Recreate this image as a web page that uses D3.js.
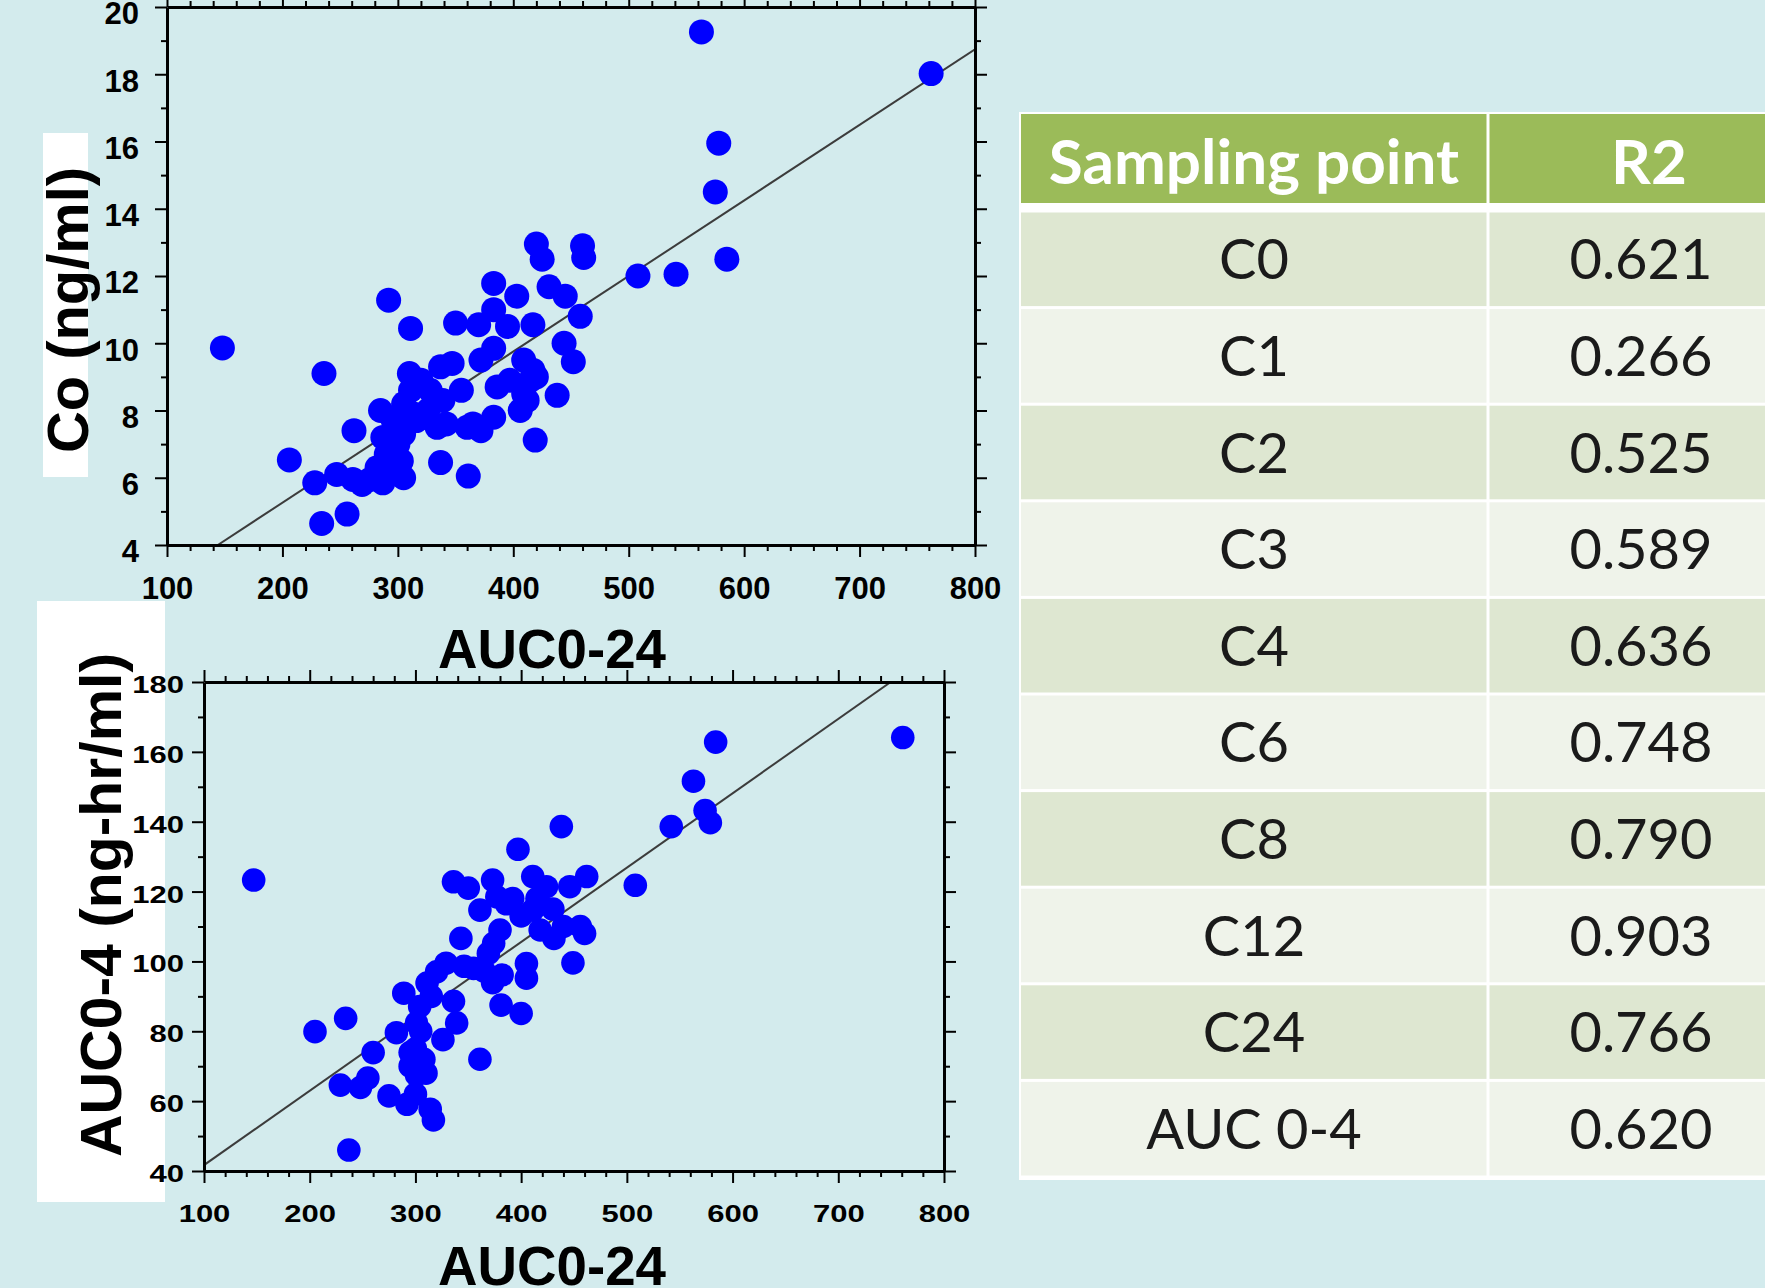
<!DOCTYPE html>
<html>
<head>
<meta charset="utf-8">
<script src="https://cdn.jsdelivr.net/npm/d3@7"></script>
<style>
  body { margin: 0; background: #d3ebed; }
  svg { display: block; }
</style>
</head>
<body>
<svg id="chart"></svg>
<script>
// ---- data ----
// top scatter: Co (ng/ml) against AUC0-24
const coAuc24 = [148, 563, 762, 578, 575, 585, 508, 541, 420, 425, 460, 461, 383, 403, 431, 445,
    458, 444, 452, 438, 419, 292, 311, 236, 206, 262, 228, 234, 256, 337, 361, 350, 370, 383, 395,
    417, 383, 372, 409, 417, 397, 386, 409, 406, 383, 372, 360, 342, 347, 337, 310, 311, 328, 339,
    305, 285, 296, 316, 334, 287, 305, 290, 303, 305, 282, 276, 287, 261, 247, 269, 415, 300, 313,
    326, 355, 365, 420, 412, 298, 320];
const coValues = [9.86, 19.26, 18.02, 15.95, 14.5, 12.5, 12.0, 12.05, 12.95, 12.5, 12.9, 12.55,
    11.78, 11.4, 11.68, 11.4, 10.8, 10.0, 9.45, 8.45, 7.12, 11.28, 10.44, 9.1, 6.53, 7.4, 5.85, 4.64,
    4.92, 6.45, 6.05, 10.6, 10.55, 11.0, 10.5, 10.55, 9.85, 9.5, 9.5, 9.2, 8.9, 8.7, 8.5, 8.0, 7.8,
    7.4, 7.5, 7.6, 9.4, 9.3, 9.1, 8.6, 8.6, 8.3, 8.2, 8.0, 7.7, 7.7, 7.5, 7.2, 7.3, 6.7, 6.5, 6.0,
    6.3, 5.95, 5.85, 5.95, 6.1, 5.8, 8.9, 7.0, 7.9, 8.0, 8.6, 7.6, 9.0, 8.3, 6.2, 8.9];
const coFit = { intercept: 0.764, slope: 0.02247 };

// bottom scatter: AUC0-4 against AUC0-24
const aucAuc24 = [147, 584, 761, 563, 574, 579, 542, 508, 438, 397, 336, 350, 373, 377, 361, 386,
    411, 424, 446, 462, 411, 418, 431, 456, 460, 380, 374, 369, 343, 449, 405, 405, 382, 381, 400,
    329, 346, 365, 373, 289, 311, 336, 304, 339, 326, 301, 282, 295, 260, 234, 205, 308, 301, 255,
    229, 248, 275, 292, 314, 361, 237, 300, 305, 295, 310, 300, 315, 320, 355, 392, 400, 415, 430,
    440, 317];
const auc04Values = [123.3, 162.8, 164.1, 151.6, 143.2, 139.7, 138.6, 121.8, 138.6, 132.1, 122.8,
    121, 123.3, 118.5, 114.7, 116.5, 124.3, 121.4, 121.4, 124.3, 114.7, 109, 106.6, 110, 108, 109,
    105.2, 102.3, 106.6, 99.6, 99.4, 95.2, 96.1, 87.5, 85.1, 99.5, 98.6, 97.2, 93.9, 90.9, 93.8, 88.6,
    87.1, 82.4, 77.6, 82.4, 79.6, 73.9, 73.9, 83.7, 79.9, 72, 67.5, 66.6, 64.6, 63.9, 61.5, 59.1,
    57.7, 72, 46, 75, 80, 70, 68, 62, 90, 97, 98, 118, 113, 118, 115, 110, 54.6];
const aucFit = { intercept: 20.4, slope: 0.2129 };

// table
const samplingPoints = ['C0', 'C1', 'C2', 'C3', 'C4', 'C6', 'C8', 'C12', 'C24', 'AUC 0-4'];
const r2Values = ['0.621', '0.266', '0.525', '0.589', '0.636', '0.748', '0.790', '0.903', '0.766', '0.620'];
const tableHeader = ['Sampling point', 'R2'];

const W = 1765, H = 1288;
const BG = '#d3ebed';

const svg = d3.select('#chart').attr('width', W).attr('height', H);
svg.append('rect').attr('width', W).attr('height', H).attr('fill', BG);

// white patches behind the y titles (under the tick labels)
svg.append('rect').attr('x', 43).attr('y', 133).attr('width', 45).attr('height', 344).attr('fill', '#fff');
svg.append('rect').attr('x', 37).attr('y', 601).attr('width', 128).attr('height', 601).attr('fill', '#fff');

function drawScatter(o) {
    let g = svg.append('g');

    let x = d3.scaleLinear().domain(o.xDomain).range([o.left, o.right]);
    let y = d3.scaleLinear().domain(o.yDomain).range([o.bottom, o.top]);

    g.append('rect')
        .attr('x', o.left).attr('y', o.top)
        .attr('width', o.right - o.left).attr('height', o.bottom - o.top)
        .attr('fill', BG);

    // regression line, cut at the frame
    let clipId = 'clip' + o.id;
    g.append('clipPath').attr('id', clipId)
        .append('rect')
        .attr('x', o.left).attr('y', o.top)
        .attr('width', o.right - o.left).attr('height', o.bottom - o.top);

    let x0 = Math.max(o.xDomain[0], (o.yDomain[0] - o.fit.intercept) / o.fit.slope);
    let x1 = Math.min(o.xDomain[1], (o.yDomain[1] - o.fit.intercept) / o.fit.slope);
    g.append('line')
        .attr('clip-path', `url(#${clipId})`)
        .attr('x1', x(x0)).attr('y1', y(o.fit.intercept + o.fit.slope * x0))
        .attr('x2', x(x1)).attr('y2', y(o.fit.intercept + o.fit.slope * x1))
        .attr('stroke', '#3c3c3c')
        .attr('stroke-width', 2);

    // dots
    g.selectAll('.dot')
        .data(o.xs.map((d, i) => [d, o.ys[i]]))
        .enter()
        .append('circle')
        .attr('class', 'dot')
        .attr('cx', d => x(d[0]))
        .attr('cy', d => y(d[1]))
        .attr('r', o.r)
        .attr('fill', '#0000ff');

    // axes: major + minor ticks on all four sides, all pointing out
    let xMajor = d3.range(o.xDomain[0], o.xDomain[1] + 1, o.xStep);
    let xMinor = d3.range(o.xDomain[0], o.xDomain[1] + 1, o.xMinorStep).filter(v => !xMajor.includes(v));
    let yMajor = d3.range(o.yDomain[0], o.yDomain[1] + 0.001, o.yStep);
    let yMinor = d3.range(o.yDomain[0], o.yDomain[1] + 0.001, o.yMinorStep).filter(v => !yMajor.includes(v));

    let sides = [
        { make: () => d3.axisBottom(x), t: `translate(0,${o.bottom})`, major: xMajor, minor: xMinor, labels: true },
        { make: () => d3.axisTop(x), t: `translate(0,${o.top})`, major: xMajor, minor: xMinor, labels: false },
        { make: () => d3.axisLeft(y), t: `translate(${o.left},0)`, major: yMajor, minor: yMinor, labels: true },
        { make: () => d3.axisRight(y), t: `translate(${o.right},0)`, major: yMajor, minor: yMinor, labels: false }
    ];

    sides.forEach((s, i) => {
        g.append('g')
            .attr('transform', s.t)
            .call(s.make().tickValues(s.minor).tickSize(6).tickSizeOuter(0).tickFormat(''))
            .call(a => a.select('.domain').remove())
            .selectAll('line').attr('stroke', '#000').attr('stroke-width', 2);

        let major = g.append('g')
            .attr('class', 'axis')
            .attr('transform', s.t)
            .call(s.make().tickValues(s.major).tickSize(12).tickSizeOuter(0)
                .tickPadding(i === 0 ? o.xPad : o.yPad)
                .tickFormat(s.labels ? d3.format('d') : ''));
        major.select('.domain').attr('stroke', '#000').attr('stroke-width', 3);
        major.selectAll('line').attr('stroke', '#000').attr('stroke-width', 2);
        let txt = major.selectAll('text')
            .attr('fill', '#000')
            .style('font-family', '"Liberation Sans Narrow", "Liberation Sans", sans-serif')
            .style('font-weight', 'bold')
            .style('font-size', o.tickFont + 'px');
        if (i === 2) txt.attr('y', o.yLabelShift);
        if (o.squash !== 1) {
            txt.attr('transform', `scale(1,${o.squash})`)
                .attr('y', function () {
                    return (+d3.select(this).attr('y') || 0) / o.squash;
                });
        }
    });
    return g;
}

drawScatter({
    id: 'top', xs: coAuc24, ys: coValues, fit: coFit,
    xDomain: [100, 800], yDomain: [4, 20],
    left: 167, right: 975, top: 7, bottom: 545,
    xStep: 100, xMinorStep: 20, yStep: 2, yMinorStep: 1,
    r: 12.5, tickFont: 31, xPad: 20, yPad: 16, yLabelShift: 7, squash: 1
});

drawScatter({
    id: 'bottom', xs: aucAuc24, ys: auc04Values, fit: aucFit,
    xDomain: [100, 800], yDomain: [40, 180],
    left: 204, right: 944, top: 682, bottom: 1171,
    xStep: 100, xMinorStep: 20, yStep: 20, yMinorStep: 10,
    r: 11.8, tickFont: 31, xPad: 22, yPad: 8, yLabelShift: 3, squash: 0.75
});

// axis titles
const titleFont = '"Liberation Sans", Arial, sans-serif';

svg.append('text')
    .attr('transform', 'translate(88,310) rotate(-90)')
    .attr('text-anchor', 'middle')
    .attr('textLength', 286).attr('lengthAdjust', 'spacingAndGlyphs')
    .style('font-family', titleFont).style('font-weight', 'bold').style('font-size', '57px')
    .text('Co (ng/ml)');

svg.append('text')
    .attr('transform', 'translate(121,905) rotate(-90)')
    .attr('text-anchor', 'middle')
    .attr('textLength', 504).attr('lengthAdjust', 'spacingAndGlyphs')
    .style('font-family', titleFont).style('font-weight', 'bold').style('font-size', '57px')
    .text('AUC0-4 (ng-hr/ml)');

[668, 1285].forEach(yb => {
    svg.append('text')
        .attr('x', 552).attr('y', yb)
        .attr('text-anchor', 'middle')
        .attr('textLength', 228).attr('lengthAdjust', 'spacingAndGlyphs')
        .style('font-family', titleFont).style('font-weight', 'bold').style('font-size', '55px')
        .text('AUC0-24');
});

// ---- table ----
const tab = { left: 1021, split: 1488, right: 1800, headTop: 114, headBottom: 203, bodyTop: 211, bodyBottom: 1177 };
const tableFont = 'Lato, "Open Sans", sans-serif';
const rowH = (tab.bodyBottom - tab.bodyTop) / samplingPoints.length;

let t = svg.append('g');
t.append('rect')
    .attr('x', tab.left - 2).attr('y', tab.headTop - 2)
    .attr('width', tab.right - tab.left + 2).attr('height', tab.bodyBottom - tab.headTop + 5)
    .attr('fill', '#ffffff');

let colX = [[tab.left, tab.split - 1.5], [tab.split + 1.5, tab.right]];

colX.forEach(c => {
    t.append('rect')
        .attr('x', c[0]).attr('y', tab.headTop)
        .attr('width', c[1] - c[0]).attr('height', tab.headBottom - tab.headTop)
        .attr('fill', '#9bbb59');
});

[[1254, tableHeader[0]], [1649, tableHeader[1]]].forEach(h => {
    t.append('text')
        .attr('x', h[0]).attr('y', 184)
        .attr('text-anchor', 'middle')
        .style('font-family', tableFont).style('font-weight', 'bold').style('font-size', '62px')
        .attr('fill', '#ffffff')
        .text(h[1]);
});

samplingPoints.forEach((p, i) => {
    let y0 = tab.bodyTop + i * rowH;
    let fill = i % 2 === 0 ? '#dee7d1' : '#eff3ea';
    colX.forEach(c => {
        t.append('rect')
            .attr('x', c[0]).attr('y', y0 + 1.5)
            .attr('width', c[1] - c[0]).attr('height', rowH - 3)
            .attr('fill', fill);
    });
    t.append('text')
        .attr('x', 1254).attr('y', y0 + rowH / 2 + 20)
        .attr('text-anchor', 'middle')
        .style('font-family', tableFont).style('font-size', '56px')
        .attr('fill', '#1a1a1a')
        .text(p);
    t.append('text')
        .attr('x', 1641).attr('y', y0 + rowH / 2 + 20)
        .attr('text-anchor', 'middle')
        .style('font-family', tableFont).style('font-size', '56px')
        .attr('fill', '#1a1a1a')
        .text(r2Values[i]);
});
</script>
</body>
</html>
